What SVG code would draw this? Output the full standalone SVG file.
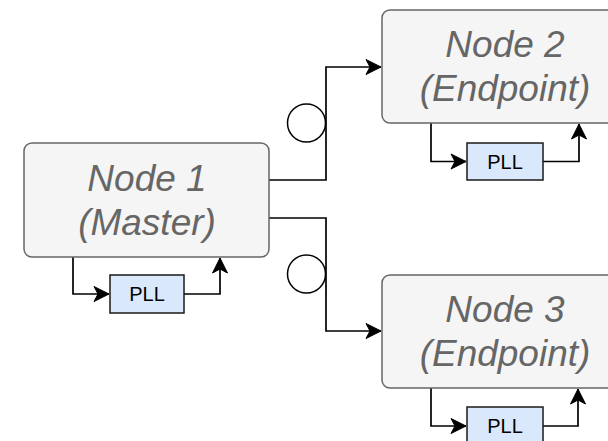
<svg xmlns="http://www.w3.org/2000/svg" width="608" height="441" viewBox="0 0 608 441">
  <style>
    .node { fill: #f5f5f5; stroke: #666666; stroke-width: 1.5; }
    .title { font-family: "Liberation Sans", Arial, sans-serif; font-style: italic; font-size: 37px; fill: #666666; text-anchor: middle; }
    .pll { fill: #dae8fc; stroke: #1a1a1a; stroke-width: 1.5; }
    .pll-label { font-family: "Liberation Sans", Arial, sans-serif; font-size: 20px; fill: #000000; text-anchor: middle; }
    .wire { fill: none; stroke: #000000; stroke-width: 1.7; }
    .ring { fill: #ffffff; stroke: #000000; stroke-width: 1.5; }
  </style>
  <defs>
    <marker id="arrow" markerUnits="userSpaceOnUse" viewBox="-17 -9 18 18" refX="0" refY="0" markerWidth="18" markerHeight="18" orient="auto">
      <path d="M0,0 L-15,-7.5 L-11,0 L-15,7.5 Z" fill="#000000" stroke="#000000" stroke-width="1"/>
    </marker>
  </defs>
  <rect width="608" height="441" fill="#ffffff"/>

  <!-- links between nodes and PLL feedback loops -->
  <g id="connectors">
    <path class="wire" d="M269,180 H326 V67 H381" marker-end="url(#arrow)"/>
    <path class="wire" d="M269,218 H326 V331 H381" marker-end="url(#arrow)"/>
    <circle class="ring" cx="306.5" cy="123" r="19"/>
    <circle class="ring" cx="306.5" cy="274" r="19"/>

    <path class="wire" d="M73,257 V294 H109" marker-end="url(#arrow)"/>
    <path class="wire" d="M184,294 H220 V258" marker-end="url(#arrow)"/>

    <path class="wire" d="M431,123 V161.5 H466" marker-end="url(#arrow)"/>
    <path class="wire" d="M543,161.5 H579 V124" marker-end="url(#arrow)"/>

    <path class="wire" d="M431,388 V426 H466" marker-end="url(#arrow)"/>
    <path class="wire" d="M543,426 H578 V389" marker-end="url(#arrow)"/>
  </g>

  <g id="node1">
    <rect class="node" x="24" y="143" width="245" height="114" rx="8"/>
    <text class="title" x="147" y="191">Node 1</text>
    <text class="title" x="147" y="235">(Master)</text>
  </g>
  <g id="pll1">
    <rect class="pll" x="110" y="275" width="74" height="38"/>
    <text class="pll-label" x="147" y="301">PLL</text>
  </g>

  <g id="node2">
    <rect class="node" x="382" y="10" width="245" height="113" rx="8"/>
    <text class="title" x="505" y="57">Node 2</text>
    <text class="title" x="505" y="101">(Endpoint)</text>
  </g>
  <g id="pll2">
    <rect class="pll" x="467" y="143" width="76" height="37"/>
    <text class="pll-label" x="505" y="168.5">PLL</text>
  </g>

  <g id="node3">
    <rect class="node" x="382" y="275" width="245" height="113" rx="8"/>
    <text class="title" x="505" y="322">Node 3</text>
    <text class="title" x="505" y="366">(Endpoint)</text>
  </g>
  <g id="pll3">
    <rect class="pll" x="467" y="407" width="76" height="38"/>
    <text class="pll-label" x="505" y="433">PLL</text>
  </g>
</svg>
